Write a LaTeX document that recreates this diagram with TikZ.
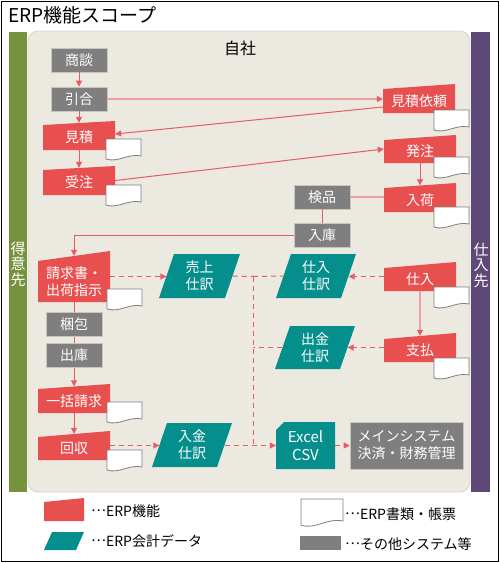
\documentclass[tikz,border=0pt]{standalone}
\usepackage{fontspec}
\setmainfont{Noto Sans CJK JP}
\usetikzlibrary{arrows.meta}
\definecolor{erpred}{HTML}{E8504F}
\definecolor{erpteal}{HTML}{058F8C}
\definecolor{erpgray}{HTML}{7F7F7F}
\definecolor{graybd}{HTML}{C8C5BC}
\definecolor{bgc}{HTML}{ECE9E1}
\definecolor{bgbd}{HTML}{D9D5C6}
\definecolor{erpgreen}{HTML}{77923C}
\definecolor{erppurple}{HTML}{5E4878}
\definecolor{lnred}{HTML}{E85A64}
\definecolor{lnlight}{HTML}{EFA0A5}
\definecolor{docbd}{HTML}{7F7F7F}
\newcommand\boxfont{\fontsize{14}{17}\selectfont}
\newcommand\midell{\raisebox{0.33em}{…}}
\tikzset{
  tslant/.store in=\tslantv, tslant=4,
  redbox/.style={minimum width=72pt, minimum height=29pt, inner sep=0pt,
    path picture={\fill[erpred] ([yshift=-\tslantv pt]path picture bounding box.north west)
      -- (path picture bounding box.north east) -- (path picture bounding box.south east)
      -- (path picture bounding box.south west) -- cycle;}},
  tealbox/.style={minimum width=80pt, minimum height=44pt, inner sep=0pt, text=white,
    font=\boxfont, align=center,
    path picture={\fill[erpteal] (path picture bounding box.south west)
      -- ([xshift=\tslantv pt]path picture bounding box.north west)
      -- (path picture bounding box.north east)
      -- ([xshift=-\tslantv pt]path picture bounding box.south east) -- cycle;}},
  graybox/.style={fill=erpgray, draw=graybd, line width=0.6pt, text=white, font=\boxfont,
    minimum width=56pt, minimum height=24pt, inner sep=0pt, align=center},
  wtext/.style={text=white, font=\boxfont, align=center, inner sep=0pt},
  lgtext/.style={font=\fontsize{14}{17}\selectfont, inner sep=0pt, anchor=west},
  ln/.style={draw=lnred, line width=1pt},
  lnl/.style={draw=lnlight, line width=1.6pt},
  dl/.style={draw=lnred, line width=1pt, dash pattern=on 5pt off 4pt},
  arr/.style={-{Triangle[length=6pt,width=6pt,fill=lnred,color=lnred]}},
  doc/.pic={\draw[draw=docbd, fill=white, line width=0.8pt] (0,0) -- (35,0) -- (35,17)
      .. controls (22,14) and (12,24) .. (0,20) -- cycle;}
}
\newcommand\redbox[5]{%
  \node[redbox, tslant=#3, minimum height=#4pt] (#1) at (#2) {};
  \node[wtext] (#1-t) at ([yshift=-#3pt/2]#1.center) {#5};}
\begin{document}
\begin{tikzpicture}[x=1pt,y=-1pt]
\useasboundingbox (0,0) rectangle (500,563);
\fill[white] (0,0) rectangle (500,563);
\draw[black, line width=1.2pt] (1.5,1.5) rectangle (498.5,561.5);
\node[anchor=base west, font=\fontsize{19}{22}\selectfont, inner sep=0pt] (title) at (8,22) {ERP機能スコープ};
% background and side bars
\draw[fill=bgc, draw=bgbd, rounded corners=10pt, line width=0.8pt] (28,31) rectangle (470,492);
\fill[erpgreen] (9,32) rectangle (27,492);
\fill[erppurple] (471,32) rectangle (490,492);
\node[text=white, font=\fontsize{15}{15.5}\selectfont, align=center, inner sep=0pt] (tokuisaki) at (18,264) {得\\意\\先};
\node[text=white, font=\fontsize{15}{15.5}\selectfont, align=center, inner sep=0pt] (shiiresaki) at (481,265) {仕\\入\\先};
\node[font=\fontsize{16}{18}\selectfont, inner sep=0pt] (jisha) at (240,48) {自社};
% gray boxes
\node[graybox] (shodan) at (79,60) {商談};
\node[graybox] (hikiai) at (79,99) {引合};
\node[graybox] (kenpin) at (322,197) {検品};
\node[graybox] (nyuko) at (322,235.5) {入庫};
\node[graybox] (konpo) at (74,324.5) {梱包};
\node[graybox] (shukko) at (74,355.5) {出庫};
\node[graybox, minimum width=113pt, minimum height=47pt] (main) at (406.5,445.5) {メインシステム\\決済・財務管理};
% red boxes
\redbox{mitsumori}{79,135.5}{4}{29}{見積}
\redbox{juchu}{79,180.5}{4}{29}{受注}
\redbox{mitsuirai}{419,98.5}{5}{29}{見積依頼}
\redbox{hatchu}{420,149}{5}{28}{発注}
\redbox{nyuka}{420,197.5}{5}{29}{入荷}
\redbox{shiire}{420,276.5}{6}{29}{仕入}
\redbox{shiharai}{420,347.5}{6}{29}{支払}
\redbox{seikyu}{74,276.5}{10}{51}{請求書・\\出荷指示}
\redbox{ikkatsu}{74,398.5}{5}{29}{一括請求}
\redbox{kaishu}{74,445.5}{6}{29}{回収}
% teal boxes
\node[tealbox, tslant=15, minimum width=81pt] (uriage) at (199.5,276) {売上\\仕訳};
\node[tealbox, tslant=15] (shiiresw) at (316,276) {仕入\\仕訳};
\node[tealbox, tslant=15, minimum height=43pt] (shukkinsw) at (315,347.5) {出金\\仕訳};
\node[tealbox, tslant=15] (nyukinsw) at (192,445) {入金\\仕訳};
\node[minimum width=59pt, minimum height=47pt, inner sep=0pt, text=white, align=center,
  font=\fontsize{15}{18}\selectfont,
  path picture={\fill[erpteal] ([yshift=-8pt]path picture bounding box.north west)
    -- ([xshift=8pt]path picture bounding box.north west)
    -- (path picture bounding box.north east) -- (path picture bounding box.south east)
    -- (path picture bounding box.south west) -- cycle;}] (excel) at (305.5,445.5) {Excel\\CSV};
% documents
\pic at (106,139) {doc};
\pic at (106,185) {doc};
\pic at (434,110) {doc};
\pic at (434,157) {doc};
\pic at (434,207) {doc};
\pic at (434,287) {doc};
\pic at (434,358) {doc};
\pic at (107,289) {doc};
\pic at (107,402) {doc};
\pic at (107,450) {doc};
% solid connectors
\draw[ln,arr] (shodan.south) -- (hikiai.north);
\draw[ln,arr] (hikiai.south) -- ([yshift=-2pt]mitsumori.north);
\draw[ln,arr] (mitsumori.south) -- ([yshift=-2pt]juchu.north);
\draw[lnl,arr] (hikiai.east) -- (hikiai.east -| mitsuirai.west);
\draw[ln,arr] ([yshift=-8.5pt]mitsuirai.west) -- ([yshift=1.5pt]mitsumori.east);
\draw[ln,arr] (juchu.east) -- (hatchu.west);
\draw[ln,arr] (hatchu.south) -- ([yshift=-2.5pt]nyuka.north);
\draw[lnl] (kenpin.east) -- (kenpin.east -| nyuka.west);
\draw[ln] (kenpin.south) -- (nyuko.north);
\draw[ln,arr] (nyuko.west) -| ([yshift=-5pt]seikyu.north);
\draw[ln] (seikyu.south) -- (konpo.north);
\draw[ln] (konpo.south) -- (shukko.north);
\draw[ln,arr] (shukko.south) -- ([yshift=-2.5pt]ikkatsu.north);
\draw[ln,arr] (ikkatsu.south) -- ([yshift=-3pt]kaishu.north);
\draw[lnl,arr] (shiire.south) -- ([yshift=-3pt]shiharai.north);
% dashed connectors
\coordinate (j1) at (253,276.5);
\coordinate (j2) at (253,445.5);
\draw[dl,arr] (seikyu.east) -- ([xshift=7.5pt]uriage.west |- seikyu.east);
\draw[dl] ([xshift=-7.5pt]uriage.east) -- (j1);
\draw[dl] (j1) -- ([xshift=7.5pt]shiiresw.west);
\draw[dl,arr] (shiire.west) -- ([xshift=-7.5pt]shiiresw.east |- shiire.west);
\draw[dl,arr] (shiharai.west) -- ([xshift=-7.5pt]shukkinsw.east |- shiharai.west);
\draw[dl] ([xshift=7.5pt]shukkinsw.west |- shiharai.west) -- (j1 |- shiharai.west);
\draw[dl] (j1) -- (j2);
\draw[dl,arr] (kaishu.east) -- ([xshift=7.5pt]nyukinsw.west |- kaishu.east);
\draw[dl,arr] ([xshift=-7.5pt]nyukinsw.east |- excel.west) -- (excel.west);
\draw[dl,arr] (excel.east) -- (main.west);
% legend
\node[redbox, tslant=4, minimum width=40pt, minimum height=23pt] (lgred) at (64,509.5) {};
\node[lgtext] (lgredt) at (91,511) {\midell ERP機能};
\node[tealbox, tslant=8, minimum width=40pt, minimum height=18pt] (lgteal) at (64,541) {};
\node[lgtext] (lgtealt) at (91,541) {\midell ERP会計データ};
\pic[xscale=1.2, yscale=1.3] at (301,499) {doc};
\node[lgtext] (lgdoct) at (345,514) {\midell ERP書類・帳票};
\node[fill=erpgray, minimum width=41pt, minimum height=14pt, inner sep=0pt] (lggray) at (320.5,543) {};
\node[lgtext] (lggrayt) at (345,544) {\midell その他システム等};
\end{tikzpicture}
\end{document}
